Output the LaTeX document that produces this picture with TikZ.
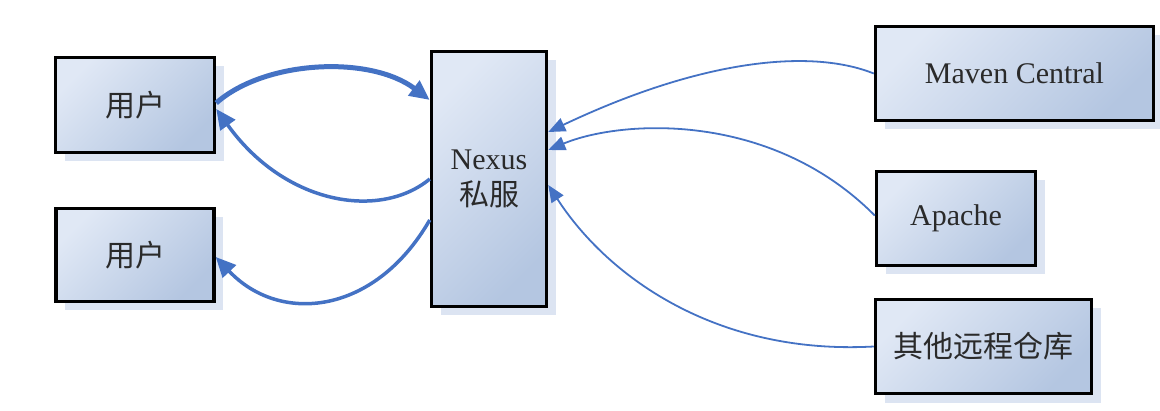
\documentclass[tikz,border=0pt]{standalone}
\usepackage{fontspec}
\setmainfont{Liberation Serif}
\newfontfamily\cjk{Noto Sans CJK SC}
\usetikzlibrary{arrows.meta,shadows}

\definecolor{boxlight}{HTML}{E0E8F5}
\definecolor{boxdark}{HTML}{B4C6E1}
\definecolor{shadowblue}{HTML}{DCE4F2}
\definecolor{linkblue}{HTML}{4472C4}
\definecolor{textgray}{HTML}{2A2A2A}

\tikzset{
  repo/.style={draw=black, line width=3.5pt, rectangle,
    left color=boxlight, right color=boxdark, shading angle=45,
    drop shadow={shadow xshift=9pt, shadow yshift=-9pt, fill=shadowblue, opacity=1},
    text=textgray, font=\fontsize{30}{36}\selectfont, align=center,
    inner sep=0pt},
  fetch/.style={draw=linkblue, line width=1.8pt,
    -{Triangle[length=17pt, width=14pt]}},
  serve/.style={draw=linkblue, line width=3.5pt,
    -{Triangle[length=20pt, width=18pt]}}
}

\begin{document}
\begin{tikzpicture}[x=1pt, y=1pt]
        \useasboundingbox (0,0) rectangle (1160,410);

        \node (user1) at ( 135, 305)   [repo, minimum width=159, minimum height=95]  {\cjk 用户};
        \node (user2) at ( 135, 155)   [repo, minimum width=158, minimum height=93]  {\cjk 用户};
        \node (nexus) at ( 489, 231)   [repo, minimum width=115, minimum height=255] {Nexus\\\cjk 私服};

        \node (maven)  at (1014.5, 336.5) [repo, minimum width=278, minimum height=94] {Maven Central};
        \node (apache) at ( 956,   191.5) [repo, minimum width=159, minimum height=94] {Apache};
        \node (other)  at ( 983.5,  63.5) [repo, minimum width=216, minimum height=94] {\cjk 其他远程仓库};

        % users <-> nexus
        \draw [serve, line width=5pt] ([yshift=2]user1.east)
          .. controls (265,350) and (370,355) .. ([yshift=79]nexus.west);
        \draw [serve] (nexus.west)
          .. controls (380,190) and (285,205) .. ([yshift=-4]user1.east);
        \draw [serve] ([yshift=-41]nexus.west)
          .. controls (375,95) and (280,85) .. ([yshift=-2]user2.east);

        % remote repositories -> nexus
        \draw [fetch] (maven.west)
          .. controls (810,362) and (700,350) .. ([yshift=47]nexus.east);
        \draw [fetch] ([yshift=3]apache.west)
          .. controls (770,300) and (620,290) .. ([yshift=29]nexus.east);
        \draw [fetch] (other.west)
          .. controls (720,55) and (610,130) .. ([yshift=-6]nexus.east);
\end{tikzpicture}
\end{document}
